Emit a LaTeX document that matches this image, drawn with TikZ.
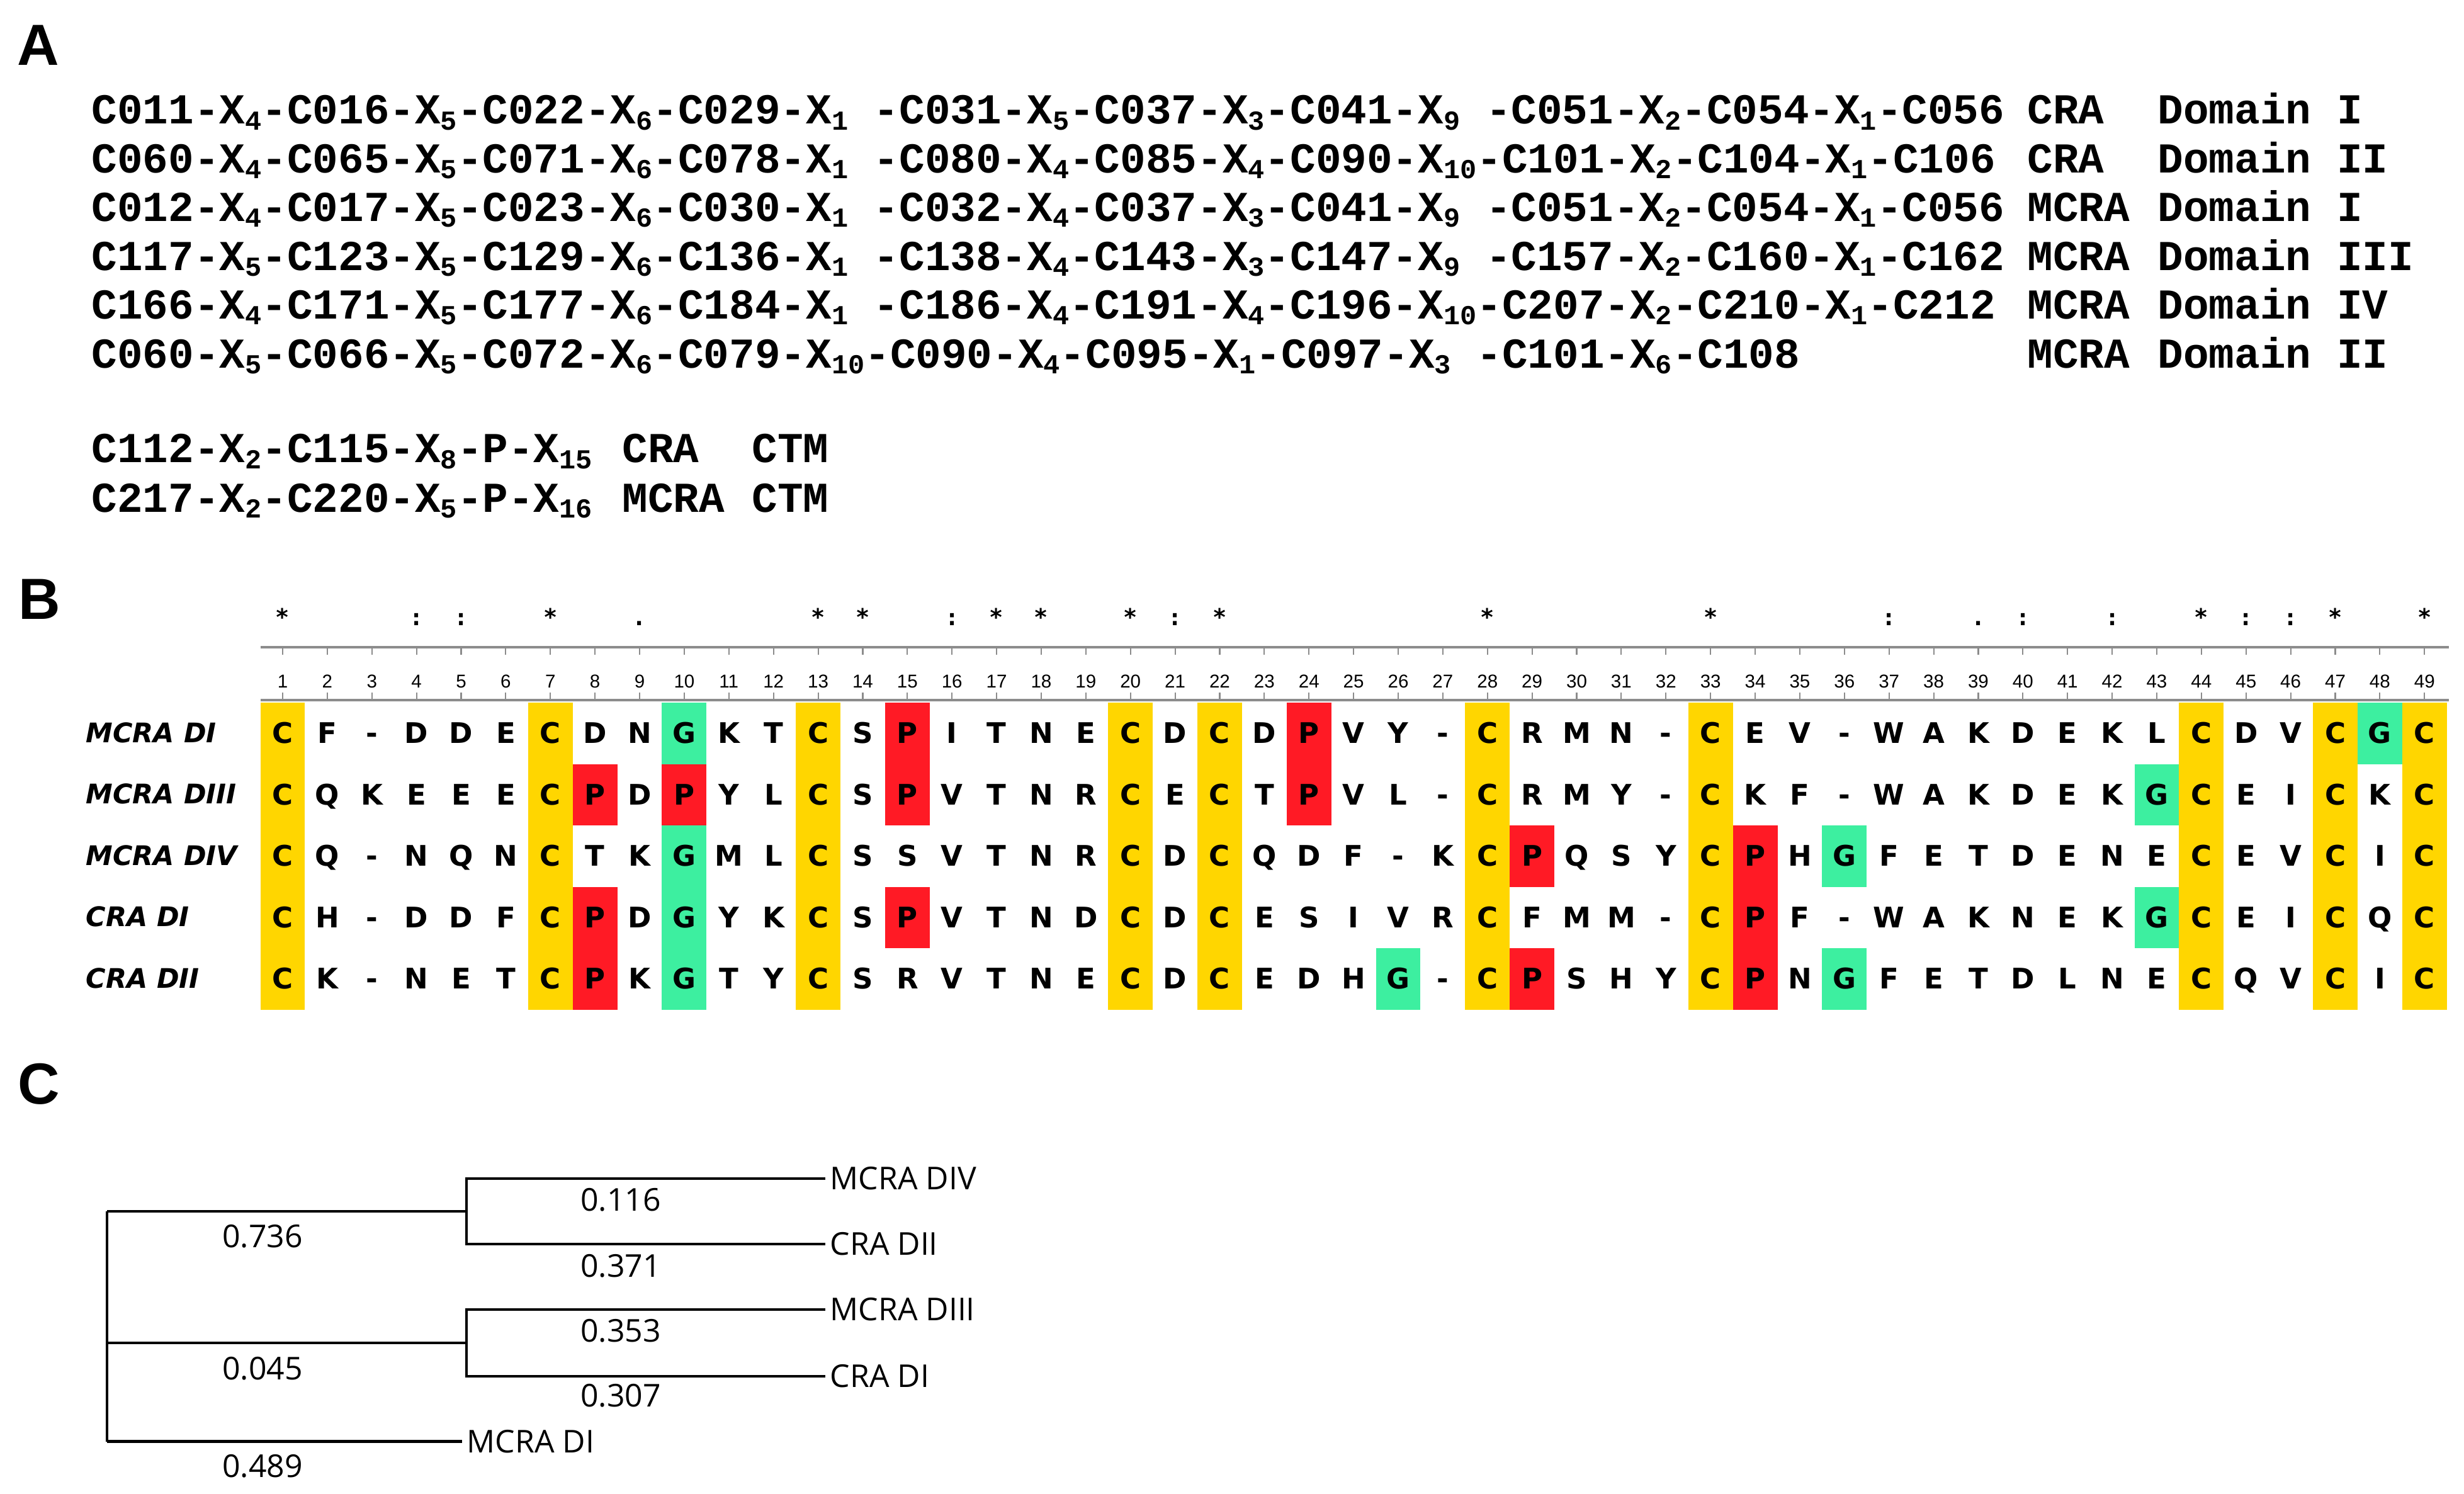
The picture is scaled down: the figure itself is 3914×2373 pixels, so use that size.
\documentclass[tikz,border=0pt]{standalone}
\usepackage{fontspec}
\newfontfamily\seqmono{Liberation Mono}
\newfontfamily\resfont{DejaVu Sans}
\newfontfamily\consfont{DejaVu Sans Mono}
\newfontfamily\numfont{Liberation Sans}
\newfontfamily\treefont{Open Sans}
\definecolor{cysyellow}{HTML}{FFD600}
\definecolor{prored}{HTML}{FF1A25}
\definecolor{glygreen}{HTML}{3DEFA0}
\definecolor{rulegray}{HTML}{8C8C8C}
\newcommand\sx[1]{\raisebox{-0.09cm}{\fontsize{12.4}{12.4}\selectfont #1}}

\begin{document}
\begin{tikzpicture}[x=0.01cm,y=-0.01cm,
    panel/.style={anchor=base west,inner sep=0,font=\numfont\bfseries\fontsize{26.2}{28}\selectfont},
    motif/.style={anchor=base west,inner sep=0,font=\seqmono\bfseries\fontsize{19.25}{23}\selectfont},
    res/.style={inner sep=0,text height=0.328cm,text depth=0pt,font=\resfont\bfseries\fontsize{12.8}{13}\selectfont},
    rowlab/.style={anchor=base west,inner sep=0,font=\resfont\bfseries\itshape\fontsize{12.2}{13}\selectfont},
    colnum/.style={inner sep=0,text height=0.212cm,text depth=0pt,font=\numfont\fontsize{8.4}{9}\selectfont},
    cons/.style={anchor=base,inner sep=0,font=\consfont\bfseries\fontsize{10.5}{11}\selectfont},
    rline/.style={rulegray,line width=1.1pt},
    rtick/.style={rulegray,line width=0.6pt},
    leaf/.style={anchor=west,inner xsep=0.07cm,inner ysep=0,text height=0.357cm,text depth=0pt,font=\treefont\fontsize{14.2}{15}\selectfont},
    blen/.style={inner sep=0,text height=0.357cm,text depth=0pt,font=\treefont\fontsize{14.2}{15}\selectfont},
    branch/.style={line width=1.2pt}]
\useasboundingbox (0,0) rectangle (3914,2373);

\node[panel] (PA) at (27,104) {A};
\node[panel] (PB) at (29,983) {B};
\node[panel] (PC) at (28,1753) {C};

\node[motif] (M1) at (145,197) {C011-X\sx{4}-C016-X\sx{5}-C022-X\sx{6}-C029-X\sx{1}\ -C031-X\sx{5}-C037-X\sx{3}-C041-X\sx{9}\ -C051-X\sx{2}-C054-X\sx{1}-C056};
\node[motif] (M2) at (145,274.4) {C060-X\sx{4}-C065-X\sx{5}-C071-X\sx{6}-C078-X\sx{1}\ -C080-X\sx{4}-C085-X\sx{4}-C090-X\sx{10}-C101-X\sx{2}-C104-X\sx{1}-C106};
\node[motif] (M3) at (145,351.8) {C012-X\sx{4}-C017-X\sx{5}-C023-X\sx{6}-C030-X\sx{1}\ -C032-X\sx{4}-C037-X\sx{3}-C041-X\sx{9}\ -C051-X\sx{2}-C054-X\sx{1}-C056};
\node[motif] (M4) at (145,429.2) {C117-X\sx{5}-C123-X\sx{5}-C129-X\sx{6}-C136-X\sx{1}\ -C138-X\sx{4}-C143-X\sx{3}-C147-X\sx{9}\ -C157-X\sx{2}-C160-X\sx{1}-C162};
\node[motif] (M5) at (145,506.6) {C166-X\sx{4}-C171-X\sx{5}-C177-X\sx{6}-C184-X\sx{1}\ -C186-X\sx{4}-C191-X\sx{4}-C196-X\sx{10}-C207-X\sx{2}-C210-X\sx{1}-C212};
\node[motif] (M6) at (145,584) {C060-X\sx{5}-C066-X\sx{5}-C072-X\sx{6}-C079-X\sx{10}-C090-X\sx{4}-C095-X\sx{1}-C097-X\sx{3}\ -C101-X\sx{6}-C108};

\foreach \r/\p/\d in {1/CRA/I,2/CRA/II,3/MCRA/I,4/MCRA/III,5/MCRA/IV,6/MCRA/II} {
  \node[motif] (P\r) at (3220,{197+(\r-1)*77.4}) {\p};
  \node[motif] (D\r) at (3427,{197+(\r-1)*77.4}) {Domain \d};
}

\node[motif] (T1) at (145,735) {C112-X\sx{2}-C115-X\sx{8}-P-X\sx{15}};
\node[motif] (T2) at (145,813) {C217-X\sx{2}-C220-X\sx{5}-P-X\sx{16}};
\node[motif] (TP1) at (988,735) {CRA};
\node[motif] (TP2) at (988,813) {MCRA};
\node[motif] (TC1) at (1194,735) {CTM};
\node[motif] (TC2) at (1194,813) {CTM};

\draw[rline] (414,1028) -- (3890,1028);
\draw[rline] (414,1112) -- (3890,1112);
\foreach \i in {1,...,49} {
  \draw[rtick] ({449+(\i-1)*70.88},1028) -- ++(0,12);
  \draw[rtick] ({449+(\i-1)*70.88},1112) -- ++(0,-12);
  \node[colnum] (N\i) at ({449+(\i-1)*70.88},1082) {\i};
}
\foreach \i/\s in {1/*,4/:,5/:,7/*,9/.,13/*,14/*,16/:,17/*,18/*,20/*,21/:,22/*,28/*,33/*,37/:,39/.,40/:,42/:,44/*,45/:,46/:,47/*,49/*}
  \node[cons] (K\i) at ({449+(\i-1)*70.88},993) {\s};

\foreach \i in {1,7,13,20,22,28,33,44,47,49}
  \fill[cysyellow] ({449+(\i-1)*70.88-35.44},1116) rectangle ++(70.88,488);
\foreach \i/\r/\c in {15/1/prored,24/1/prored,8/2/prored,10/2/prored,15/2/prored,24/2/prored,29/3/prored,34/3/prored,8/4/prored,15/4/prored,34/4/prored,8/5/prored,29/5/prored,34/5/prored,10/1/glygreen,48/1/glygreen,43/2/glygreen,10/3/glygreen,36/3/glygreen,10/4/glygreen,43/4/glygreen,10/5/glygreen,26/5/glygreen,36/5/glygreen}
  \fill[\c] ({449+(\i-1)*70.88-35.44},{1116+(\r-1)*97.6}) rectangle ++(70.88,97.6);

\foreach \r/\n in {1/MCRA DI,2/MCRA DIII,3/MCRA DIV,4/CRA DI,5/CRA DII}
  \node[rowlab] (R\r) at (136,{1179+(\r-1)*97.6}) {\n};

\foreach \a [count=\i] in {C,F,-,D,D,E,C,D,N,G,K,T,C,S,P,I,T,N,E,C,D,C,D,P,V,Y,-,C,R,M,N,-,C,E,V,-,W,A,K,D,E,K,L,C,D,V,C,G,C}
  \node[res] (A1\i) at ({449+(\i-1)*70.88},1164) {\a};
\foreach \a [count=\i] in {C,Q,K,E,E,E,C,P,D,P,Y,L,C,S,P,V,T,N,R,C,E,C,T,P,V,L,-,C,R,M,Y,-,C,K,F,-,W,A,K,D,E,K,G,C,E,I,C,K,C}
  \node[res] (A2\i) at ({449+(\i-1)*70.88},1261.6) {\a};
\foreach \a [count=\i] in {C,Q,-,N,Q,N,C,T,K,G,M,L,C,S,S,V,T,N,R,C,D,C,Q,D,F,-,K,C,P,Q,S,Y,C,P,H,G,F,E,T,D,E,N,E,C,E,V,C,I,C}
  \node[res] (A3\i) at ({449+(\i-1)*70.88},1359.2) {\a};
\foreach \a [count=\i] in {C,H,-,D,D,F,C,P,D,G,Y,K,C,S,P,V,T,N,D,C,D,C,E,S,I,V,R,C,F,M,M,-,C,P,F,-,W,A,K,N,E,K,G,C,E,I,C,Q,C}
  \node[res] (A4\i) at ({449+(\i-1)*70.88},1456.8) {\a};
\foreach \a [count=\i] in {C,K,-,N,E,T,C,P,K,G,T,Y,C,S,R,V,T,N,E,C,D,C,E,D,H,G,-,C,P,S,H,Y,C,P,N,G,F,E,T,D,L,N,E,C,Q,V,C,I,C}
  \node[res] (A5\i) at ({449+(\i-1)*70.88},1554.4) {\a};

\coordinate (root1) at (170,1924);
\coordinate (root2) at (170,2133);
\coordinate (root3) at (170,2289.5);
\coordinate (J1) at (741,1924);
\coordinate (J2) at (741,2133);
\node[leaf] (L1) at (1311,1872) {MCRA DIV};
\node[leaf] (L2) at (1311,1976) {CRA DII};
\node[leaf] (L3) at (1311,2080) {MCRA DIII};
\node[leaf] (L4) at (1311,2186) {CRA DI};
\node[leaf] (L5) at (734,2289.5) {MCRA DI};
\draw[branch] (root1) -- (root3);
\draw[branch] (root1) -- (J1);
\draw[branch] (root2) -- (J2);
\draw[branch] (root3) -- (L5.west);
\draw[branch] (L1.west) -| (J1) |- (L2.west);
\draw[branch] (L3.west) -| (J2) |- (L4.west);
\node[blen] (B1) at (417,1964) {0.736};
\node[blen] (B2) at (986,1906) {0.116};
\node[blen] (B3) at (986,2011) {0.371};
\node[blen] (B4) at (417,2174) {0.045};
\node[blen] (B5) at (986,2114) {0.353};
\node[blen] (B6) at (986,2217) {0.307};
\node[blen] (B7) at (417,2329) {0.489};
\end{tikzpicture}
\end{document}
